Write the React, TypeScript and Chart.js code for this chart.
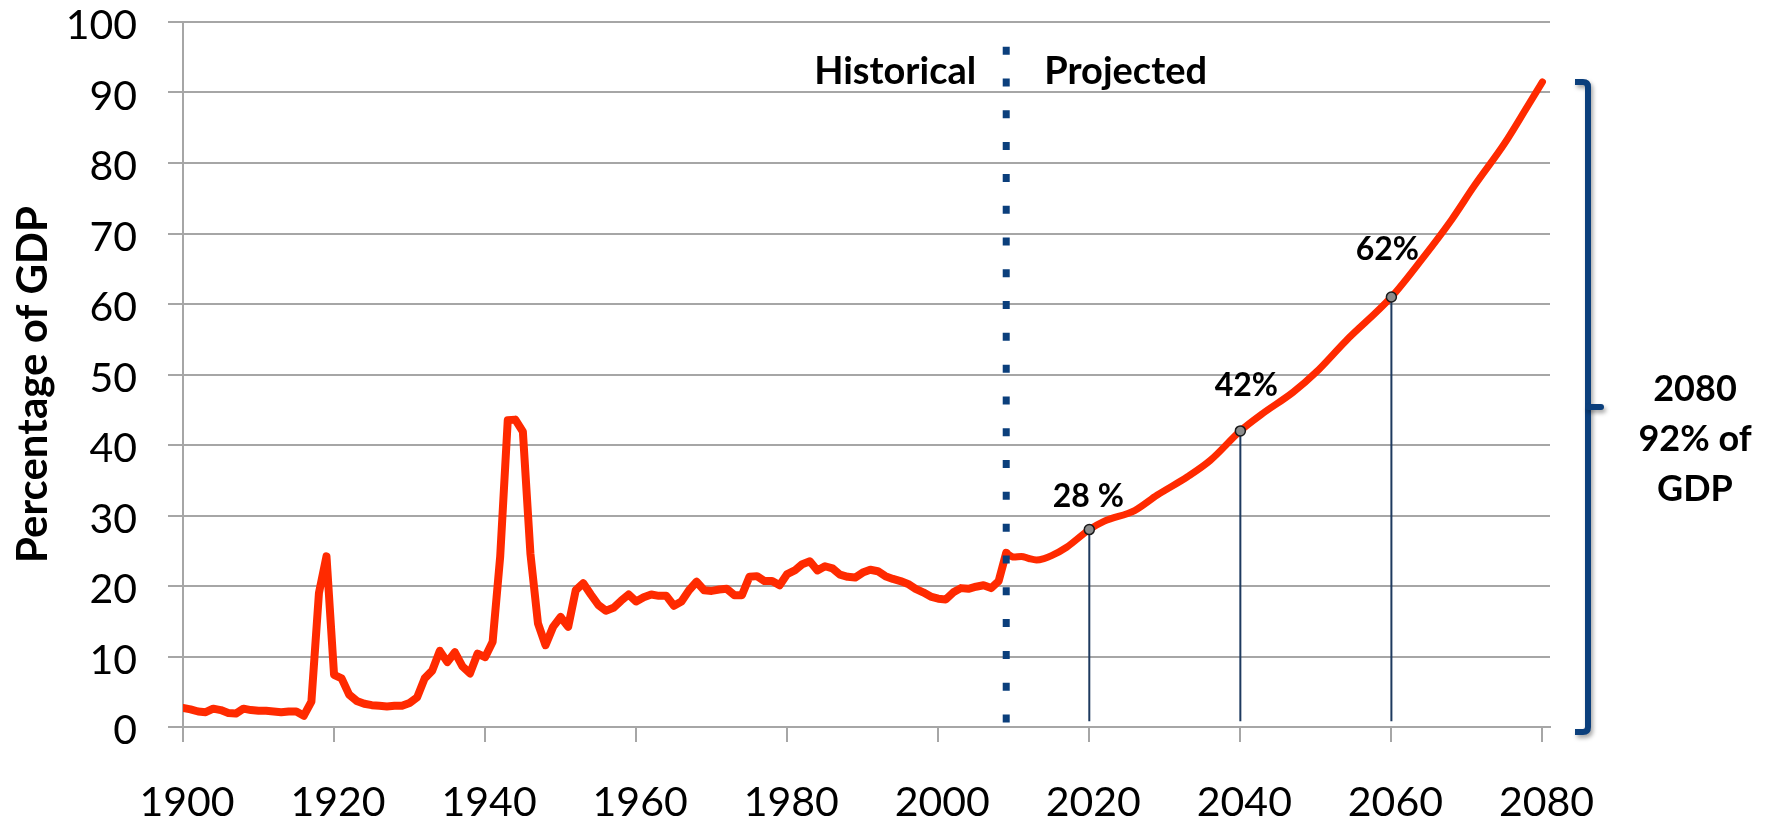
import { useEffect, useRef } from 'react';
import { Chart, registerables } from 'chart.js';

Chart.register(...registerables);

// ---------- data ----------
const histStartYear = 1900;
const histValues = [
  2.7, 2.5, 2.2, 2.1, 2.6, 2.4, 2.0, 1.9, 2.6, 2.4, // 1900-1909
  2.3, 2.3, 2.2, 2.1, 2.2, 2.2, 1.6, 3.6, 19.0, 24.2, // 1910-1919
  7.4, 6.9, 4.6, 3.7, 3.3, 3.1, 3.0, 2.9, 3.0, 3.0, // 1920-1929
  3.4, 4.2, 6.9, 8.0, 10.8, 9.2, 10.6, 8.6, 7.6, 10.4, // 1930-1939
  9.9, 12.1, 24.2, 43.5, 43.6, 41.9, 24.6, 14.7, 11.6, 14.2, // 1940-1949
  15.6, 14.2, 19.4, 20.4, 18.8, 17.3, 16.5, 16.9, 17.9, 18.8, // 1950-1959
  17.8, 18.4, 18.8, 18.6, 18.6, 17.2, 17.8, 19.4, 20.6, 19.4, // 1960-1969
  19.3, 19.5, 19.6, 18.7, 18.7, 21.3, 21.4, 20.7, 20.7, 20.1, // 1970-1979
  21.7, 22.2, 23.1, 23.5, 22.2, 22.8, 22.5, 21.6, 21.3, 21.2, // 1980-1989
  21.9, 22.3, 22.1, 21.4, 21.0, 20.7, 20.3, 19.6, 19.1, 18.5, // 1990-1999
  18.2, 18.1, 19.1, 19.7, 19.6, 19.9, 20.1, 19.7, 20.7, 24.7, // 2000-2009
];
const projYears = [2010, 2011, 2012, 2013, 2014, 2015, 2017, 2020, 2022, 2026, 2029, 2033, 2036, 2040, 2043, 2047, 2050, 2054, 2060, 2064, 2068, 2071, 2075, 2078, 2080];
const projValues = [24.1, 24.2, 23.9, 23.7, 23.9, 24.3, 25.5, 28.0, 29.2, 30.7, 32.9, 35.5, 37.8, 42.0, 44.5, 47.5, 50.3, 54.8, 61.0, 66.3, 72.0, 76.8, 82.8, 88.0, 91.5];
const markerYears = [2020, 2040, 2060];
const markerValues = [28.0, 42.0, 61.0];
const markerLabels = ['28 %', '42%', '62%'];
const splitYear = 2009;
const xTickValues = [1900, 1920, 1940, 1960, 1980, 2000, 2020, 2040, 2060, 2080];
const headerLabels = ['Historical', 'Projected'];
const yAxisTitle = 'Percentage of GDP';
const braceTopValue = 91.5;
const braceLabelLines = ['2080', '92% of', 'GDP'];

const RED = '#ff2a00';
const NAVY = '#0b3f7c';
const GRID = '#a6a6a6';
const FONT = 'Lato';

const annotationPlugin = {
  id: 'annotations',
  afterDatasetsDraw(chart: any) {
    const { ctx, chartArea } = chart;
    const x = chart.scales.x;
    const y = chart.scales.y;
    ctx.save();
    ctx.fillStyle = '#000';
    ctx.textBaseline = 'alphabetic';

    // Historical / Projected headers
    const sx = x.getPixelForValue(splitYear);
    const hy = y.getPixelForValue(90) - 9;
    ctx.font = `bold 38px ${FONT}`;
    ctx.textAlign = 'right';
    ctx.fillText(headerLabels[0], sx - 30, hy);
    ctx.textAlign = 'left';
    ctx.fillText(headerLabels[1], sx + 38, hy);

    // marker labels
    const offs = [[-1, -23], [6, -35], [-4, -37]];
    ctx.font = `bold 32px ${FONT}`;
    ctx.textAlign = 'center';
    markerLabels.forEach((t, i) => {
      const px = x.getPixelForValue(markerYears[i]);
      const py = y.getPixelForValue(markerValues[i]);
      const o = offs[i] || [0, -30];
      ctx.fillText(t, px + o[0], py + o[1]);
    });

    // y-axis title
    ctx.save();
    ctx.translate(47, (chartArea.top + chartArea.bottom) / 2 + 10);
    ctx.rotate(-Math.PI / 2);
    ctx.font = `bold 42px ${FONT}`;
    ctx.textAlign = 'center';
    ctx.fillText(yAxisTitle, 0, 0);
    ctx.restore();

    // brace
    const bx = chartArea.right + 38;
    const top = y.getPixelForValue(braceTopValue);
    const bottom = y.getPixelForValue(0) + 5;
    const mid = (top + bottom) / 2;
    ctx.save();
    ctx.shadowColor = 'rgba(0,0,0,0.35)';
    ctx.shadowBlur = 4;
    ctx.shadowOffsetX = 2;
    ctx.shadowOffsetY = 3;
    ctx.strokeStyle = NAVY;
    ctx.lineWidth = 6;
    ctx.lineJoin = 'round';
    ctx.lineCap = 'butt';
    ctx.beginPath();
    ctx.moveTo(bx - 13, top);
    ctx.lineTo(bx - 5, top);
    ctx.quadraticCurveTo(bx, top, bx, top + 5);
    ctx.lineTo(bx, bottom - 5);
    ctx.quadraticCurveTo(bx, bottom, bx - 5, bottom);
    ctx.lineTo(bx - 13, bottom);
    ctx.stroke();
    ctx.beginPath();
    ctx.lineCap = 'round';
    ctx.moveTo(bx, mid);
    ctx.lineTo(bx + 13, mid);
    ctx.stroke();
    ctx.restore();

    // brace label
    ctx.font = `bold 36px ${FONT}`;
    ctx.textAlign = 'center';
    const cx = chartArea.right + 145;
    braceLabelLines.forEach((t, i) => {
      ctx.fillText(t, cx, mid - 6 + i * 50);
    });

    ctx.restore();
  },
};

export default function App() {
  const ref = useRef<HTMLCanvasElement | null>(null);

  useEffect(() => {
    if (!ref.current) return;
    const histData = histValues.map((v, i) => ({ x: histStartYear + i, y: v }));
    const lastHist = histData[histData.length - 1];
    const projData = [lastHist, ...projYears.map((yr, i) => ({ x: yr, y: projValues[i] }))];
    const markerData = markerYears.map((yr, i) => ({ x: yr, y: markerValues[i] }));
    const dropDatasets = markerYears.map((yr, i) => ({
      type: 'line' as const,
      data: [{ x: yr, y: markerValues[i] }, { x: yr, y: 0.8 }],
      borderColor: '#1e3a5f',
      borderWidth: 2,
      pointRadius: 0,
      fill: false,
    }));

    const chart = new Chart(ref.current, {
      type: 'line',
      data: {
        datasets: [
          {
            data: markerData,
            showLine: false,
            pointRadius: 5,
            pointBackgroundColor: '#8c8c8c',
            pointBorderColor: '#1a1a1a',
            pointBorderWidth: 1.5,
          },
          ...dropDatasets,
          {
            data: [{ x: splitYear, y: 96.5 }, { x: splitYear, y: 0.5 }],
            borderColor: NAVY,
            borderWidth: 7,
            borderDash: [8, 23.8],
            borderCapStyle: 'butt',
            pointRadius: 0,
          },
          {
            data: projData,
            borderColor: RED,
            borderWidth: 7,
            borderJoinStyle: 'round',
            borderCapStyle: 'round',
            pointRadius: 0,
            cubicInterpolationMode: 'monotone',
          },
          {
            data: histData,
            borderColor: RED,
            borderWidth: 8,
            borderJoinStyle: 'round',
            borderCapStyle: 'round',
            pointRadius: 0,
            tension: 0,
          },
        ] as any,
      },
      options: {
        animation: false,
        responsive: false,
        devicePixelRatio: 1,
        layout: { padding: { left: 0, top: 22, right: 225, bottom: 0 } },
        plugins: { legend: { display: false }, tooltip: { enabled: false } },
        scales: {
          x: {
            type: 'linear',
            min: 1900,
            max: 2081,
            afterBuildTicks: (s: any) => {
              s.ticks = xTickValues.map((v) => ({ value: v }));
            },
            afterFit: (s: any) => {
              s.height = 98;
            },
            grid: { drawOnChartArea: false, drawTicks: true, tickLength: 15, color: GRID, lineWidth: 2 },
            border: { display: true, color: GRID, width: 2 },
            ticks: {
              font: { family: FONT, size: 41 },
              color: '#000',
              padding: 36,
              labelOffset: 4,
              maxRotation: 0,
              autoSkip: false,
              callback: (v: any) => String(v),
            },
          },
          y: {
            min: 0,
            max: 100,
            afterFit: (s: any) => {
              s.width = 183;
              s.paddingTop = 20;
              s.paddingBottom = 20;
            },
            grid: { color: GRID, lineWidth: 2, tickLength: 15 },
            border: { display: true, color: GRID, width: 2 },
            ticks: {
              stepSize: 10,
              font: { family: FONT, size: 41, lineHeight: 1 },
              color: '#000',
              padding: 31,
              labelOffset: 4,
            },
          },
        },
      } as any,
      plugins: [annotationPlugin],
    });
    return () => chart.destroy();
  }, []);

  return (
    <div style={{ position: 'fixed', left: 0, top: 0, width: 1775, height: 825, background: '#fff' }}>
      <canvas ref={ref} width={1775} height={825} />
    </div>
  );
}
